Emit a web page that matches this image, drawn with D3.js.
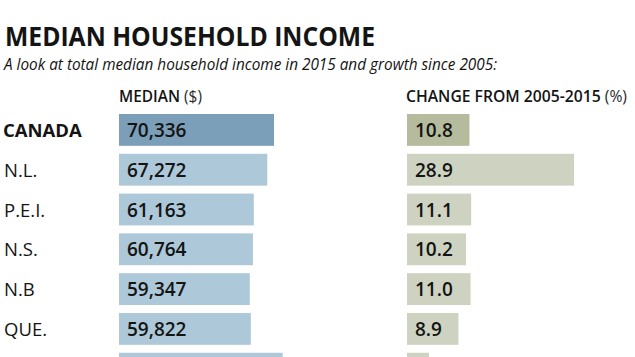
<!DOCTYPE html>
<html>
<head>
<meta charset="utf-8">
<script src="https://cdn.jsdelivr.net/npm/d3@7"></script>
<style>
  html, body { margin: 0; padding: 0; background: #fff; }
  svg { display: block; font-family: "Open Sans", "DejaVu Sans", sans-serif; }
</style>
</head>
<body>
<svg id="chart" width="635" height="357"></svg>
<script>
// ---- data ----
const regions = ["CANADA", "N.L.", "P.E.I.", "N.S.", "N.B", "QUE.", "ONT."];
const medianIncome = [70336, 67272, 61163, 60764, 59347, 59822, 74287];
const changePct = [10.8, 28.9, 11.1, 10.2, 11.0, 8.9, 3.8];
const medianLabels = ["70,336", "67,272", "61,163", "60,764", "59,347", "59,822", "74,287"];
const changeLabels = ["10.8", "28.9", "11.1", "10.2", "11.0", "8.9", "3.8"];

const title = "MEDIAN HOUSEHOLD INCOME";
const subtitle = "A look at total median household income in 2015 and growth since 2005:";

const W = 635, H = 357;
const rows = regions.map((r, i) => ({
  region: r, income: medianIncome[i], change: changePct[i],
  incomeLabel: medianLabels[i], changeLabel: changeLabels[i], total: i === 0
}));

const svg = d3.select("#chart");
const ink = "#141414";

const y = d3.scaleBand().domain(regions).range([114, 384.6]).paddingInner(0.2).paddingOuter(0);
const xL = d3.scaleLinear().domain([0, 80000]).range([119, 119 + 176.3]);
const xR = d3.scaleLinear().domain([0, 30]).range([407, 407 + 173.4]);

// title
svg.append("text").attr("x", 5).attr("y", 46)
  .attr("font-size", 26.5).attr("font-weight", 700).attr("fill", ink)
  .attr("textLength", 370).attr("lengthAdjust", "spacingAndGlyphs")
  .text(title);

svg.append("text").attr("x", 4).attr("y", 70)
  .attr("font-size", 16.5).attr("font-style", "italic").attr("fill", ink)
  .attr("textLength", 493).attr("lengthAdjust", "spacingAndGlyphs")
  .text(subtitle);

// column headers
const h1 = svg.append("text").attr("x", 119).attr("y", 101.5).attr("font-size", 15.5).attr("fill", ink)
  .attr("textLength", 83).attr("lengthAdjust", "spacingAndGlyphs");
h1.append("tspan").attr("font-weight", 600).text("MEDIAN ");
h1.append("tspan").attr("font-weight", 400).attr("fill", "#2a2a2a").text("($)");

const h2 = svg.append("text").attr("x", 406).attr("y", 101.5).attr("font-size", 15.5).attr("fill", ink)
  .attr("textLength", 221).attr("lengthAdjust", "spacingAndGlyphs");
h2.append("tspan").attr("font-weight", 600).text("CHANGE FROM 2005-2015 ");
h2.append("tspan").attr("font-weight", 400).attr("fill", "#2a2a2a").text("(%)");

// rows
const g = svg.append("g");
const row = g.selectAll("g.row").data(rows).join("g").attr("class", "row");
const baseY = d => y(d.region) + y.bandwidth() / 2 + 7;
// only label rows whose text falls inside the visible frame (the last row is cropped)
const visible = d => baseY(d) < H;

row.filter(visible).append("text")
  .attr("x", d => d.total ? 3 : 4)
  .attr("y", baseY)
  .attr("font-size", 18.5)
  .attr("font-weight", d => d.total ? 700 : 400)
  .attr("fill", ink)
  .text(d => d.region);

row.append("rect")
  .attr("x", xL(0)).attr("y", d => y(d.region))
  .attr("width", d => xL(d.income) - xL(0)).attr("height", y.bandwidth())
  .attr("fill", d => d.total ? "#7b9fb9" : "#adc8d8");

row.filter(visible).append("text")
  .attr("x", xL(0) + 8).attr("y", baseY)
  .attr("font-size", 19).attr("font-weight", 600).attr("fill", ink)
  .text(d => d.incomeLabel);

row.append("rect")
  .attr("x", xR(0)).attr("y", d => y(d.region))
  .attr("width", d => xR(d.change) - xR(0)).attr("height", y.bandwidth())
  .attr("fill", d => d.total ? "#b4bc9d" : "#cdd3c0");

row.filter(visible).append("text")
  .attr("x", xR(0) + 8).attr("y", baseY)
  .attr("font-size", 19).attr("font-weight", 600).attr("fill", ink)
  .text(d => d.changeLabel);
</script>
</body>
</html>
